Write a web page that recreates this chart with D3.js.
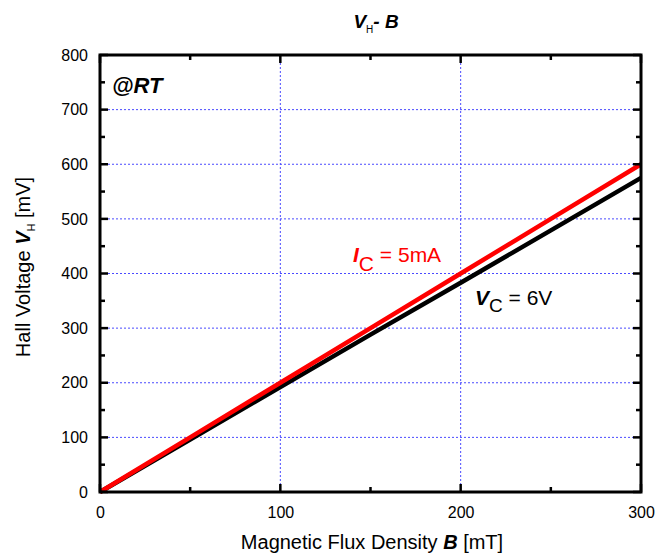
<!DOCTYPE html>
<html><head><meta charset="utf-8">
<script src="https://cdn.jsdelivr.net/npm/d3@7"></script>
<style>body{margin:0;background:#fff;} text{font-family:"Liberation Sans",Arial,sans-serif;}</style>
</head><body>
<svg id="c" width="658" height="557"></svg>
<script>
const bValues = [0, 50, 100, 150, 200, 250, 300];
const vhCurrent = [0, 100, 200, 300, 400, 500, 600];   // I_C = 5mA (red)
const vhVoltage = [0, 96, 192, 288, 383, 479, 575];    // V_C = 6V (black)
const xTicks = [0, 100, 200, 300];
const yTicks = [0, 100, 200, 300, 400, 500, 600, 700, 800];
const xMinor = [50, 150, 250];
const yMinor = [50, 150, 250, 350, 450, 550, 650, 750];

const svg = d3.select("#c");
const L = 100, R = 641, T = 55, B = 492;
const x = d3.scaleLinear().domain([0, 300]).range([L, R]);
const y = d3.scaleLinear().domain([0, 800]).range([B, T]);

// grid
const gridColor = "#4a4aff";
svg.append("g").selectAll("line").data([100, 200]).join("line")
  .attr("x1", d => x(d)).attr("x2", d => x(d)).attr("y1", T).attr("y2", B)
  .attr("stroke", gridColor).attr("stroke-width", 1).attr("stroke-dasharray", "2,2");
svg.append("g").selectAll("line").data([100, 200, 300, 400, 500, 600, 700]).join("line")
  .attr("y1", d => y(d)).attr("y2", d => y(d)).attr("x1", L).attr("x2", R)
  .attr("stroke", gridColor).attr("stroke-width", 1).attr("stroke-dasharray", "2,2");

// lines
const line = d3.line().x((d, i) => x(bValues[i])).y(d => y(d));
svg.append("path").datum(vhVoltage).attr("d", line).attr("fill", "none")
  .attr("stroke", "#000").attr("stroke-width", 4.5);
svg.append("path").datum(vhCurrent).attr("d", line).attr("fill", "none")
  .attr("stroke", "#f00").attr("stroke-width", 4.5);

// axes labels
const fmt = d3.format("d");
function styleAxis(sel) {
  sel.select(".domain").remove();
  sel.selectAll(".tick line").remove();
  sel.selectAll("text").attr("font-size", 16).attr("fill", "#000");
}
svg.append("g").attr("transform", `translate(0,${B})`)
  .call(d3.axisBottom(x).tickValues(xTicks).tickFormat(fmt).tickSize(0).tickPadding(15)).call(styleAxis);
svg.append("g").attr("transform", `translate(${L},0)`)
  .call(d3.axisLeft(y).tickValues(yTicks).tickFormat(fmt).tickSize(0).tickPadding(12)).call(styleAxis);

// tick marks (inward) on all four sides
const tk = svg.append("g").attr("stroke", "#000").attr("stroke-width", 2.5);
function xt(vals, len) {
  tk.append("g").selectAll("line").data(vals).join("line")
    .attr("x1", d => x(d)).attr("x2", d => x(d)).attr("y1", B).attr("y2", B - len);
  tk.append("g").selectAll("line").data(vals).join("line")
    .attr("x1", d => x(d)).attr("x2", d => x(d)).attr("y1", T).attr("y2", T + len);
}
function yt(vals, len) {
  tk.append("g").selectAll("line").data(vals).join("line")
    .attr("y1", d => y(d)).attr("y2", d => y(d)).attr("x1", L).attr("x2", L + len);
  tk.append("g").selectAll("line").data(vals).join("line")
    .attr("y1", d => y(d)).attr("y2", d => y(d)).attr("x1", R).attr("x2", R - len);
}
xt(xTicks, 8); xt(xMinor, 5); yt(yTicks, 8); yt(yMinor, 5);

// frame
svg.append("rect").attr("x", L).attr("y", T).attr("width", R - L).attr("height", B - T)
  .attr("fill", "none").attr("stroke", "#000").attr("stroke-width", 3);

// texts
const t1 = svg.append("text").attr("x", 353).attr("y", 262).attr("fill", "#f00").attr("font-size", 21);
t1.append("tspan").attr("font-weight", "bold").attr("font-style", "italic").text("I");
t1.append("tspan").attr("dy", 9).text("C");
t1.append("tspan").attr("dy", -9).text(" = 5mA");

const t2 = svg.append("text").attr("x", 475).attr("y", 305).attr("fill", "#000").attr("font-size", 21);
t2.append("tspan").attr("font-weight", "bold").attr("font-style", "italic").text("V");
t2.append("tspan").attr("dy", 7).attr("font-size", 19).text("C");
t2.append("tspan").attr("dy", -7).text(" = 6V");

svg.append("text").attr("x", 112).attr("y", 93).attr("font-size", 22)
  .attr("font-weight", "bold").attr("font-style", "italic").text("@RT");

const tt = svg.append("text").attr("x", 376).attr("y", 28).attr("text-anchor", "middle")
  .attr("font-size", 19).attr("font-weight", "bold").attr("font-style", "italic");
tt.append("tspan").text("V");
tt.append("tspan").attr("dy", 5).attr("font-size", 10).attr("font-weight", "normal").attr("font-style", "normal").text("H");
tt.append("tspan").attr("dy", -5).text("- B");

const xl = svg.append("text").attr("x", 372).attr("y", 549).attr("text-anchor", "middle").attr("font-size", 20);
xl.append("tspan").text("Magnetic Flux Density ");
xl.append("tspan").attr("font-weight", "bold").attr("font-style", "italic").text("B");
xl.append("tspan").text(" [mT]");

const yl = svg.append("text").attr("transform", "translate(30,267) rotate(-90)").attr("text-anchor", "middle").attr("font-size", 20);
yl.append("tspan").text("Hall Voltage ");
yl.append("tspan").attr("font-weight", "bold").attr("font-style", "italic").text("V");
yl.append("tspan").attr("dy", 5).attr("font-size", 11).text("H");
yl.append("tspan").attr("dy", -5).text(" [mV]");
</script>
</body></html>
